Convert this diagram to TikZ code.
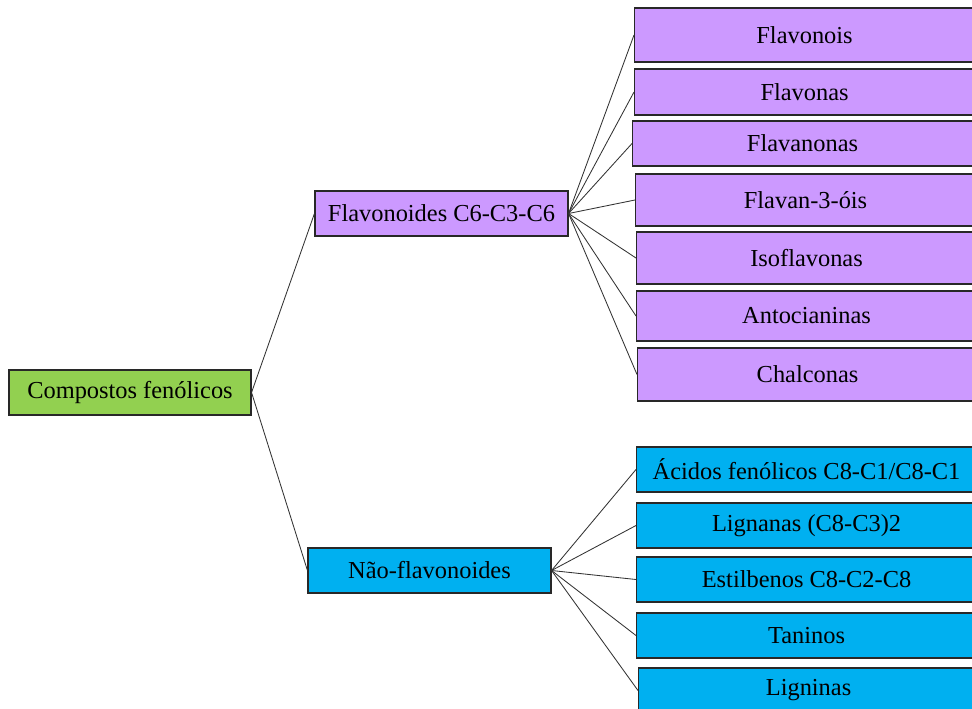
\documentclass[tikz,border=0pt]{standalone}
\usepackage{fontspec}
\setmainfont{Liberation Serif}
\usepackage{tikz}
\definecolor{leafgreen}{RGB}{146, 208, 80}
\definecolor{lilac}{RGB}{204, 153, 255}
\definecolor{skyblue}{RGB}{0, 176, 240}
\definecolor{edgegray}{RGB}{40, 40, 40}

\tikzset{
    box/.style={draw=edgegray, line width=1.1pt, rectangle, inner sep=0pt,
                font=\fontsize{24.4}{29}\selectfont, text=black},
    % folhas: a borda direita fica fora da figura
    leaf/.style={box, anchor=west, minimum width=380pt,
                execute at begin node={\hspace*{-40pt}}},
    flavbox/.style={leaf, fill=lilac},
    naobox/.style={leaf, fill=skyblue, minimum height=45pt},
    link/.style={draw=black!80, line width=0.85pt}
}

\begin{document}
\begin{tikzpicture}[x=1pt, y=-1pt]
            \useasboundingbox (0,0) rectangle (972,709);
            \clip (0,0) rectangle (972,709);
            % raiz e ramos
            \node[box, fill=leafgreen, minimum width=242pt, minimum height=45pt] (raiz) at (130.0, 392.5) {Compostos fenólicos};
            \node[box, fill=lilac, minimum width=253pt, minimum height=45pt]     (flav) at (441.5, 213.5) {Flavonoides C6-C3-C6};
            \node[box, fill=skyblue, minimum width=243pt, minimum height=45pt]   (naof) at (429.5, 570.5) {Não-flavonoides};
            % flavonoides
            \node[flavbox, minimum height=54pt] (fnois) at (634,  35.0) {Flavonois};
            \node[flavbox, minimum height=46pt] (fnas)  at (634,  92.0) {Flavonas};
            \node[flavbox, minimum height=45pt] (fanon) at (632, 143.5) {Flavanonas};
            \node[flavbox, minimum height=52pt] (f3ois) at (635, 200.0) {Flavan-3-óis};
            \node[flavbox, minimum height=52pt] (isofl) at (636, 258.0) {Isoflavonas};
            \node[flavbox, minimum height=50pt] (antoc) at (636, 316.0) {Antocianinas};
            \node[flavbox, minimum height=53pt] (chalc) at (637, 374.5) {Chalconas};
            % nao-flavonoides
            \node[naobox] (acid)  at (636, 469.5) {Ácidos fenólicos C8-C1/C8-C1};
            \node[naobox] (lign)  at (636, 525.5) {Lignanas (C8-C3)2};
            \node[naobox] (estil) at (636, 579.5) {Estilbenos C8-C2-C8};
            \node[naobox] (tanin) at (636, 635.5) {Taninos};
            \node[naobox] (ligni) at (638, 690.5) {Ligninas};
            % ligacoes
            \draw[link] (raiz.east) -- (flav.west);
            \draw[link] (raiz.east) -- (naof.west);
            \foreach \f in {fnois, fnas, fanon, f3ois, isofl, antoc, chalc}
                \draw[link] (flav.east) -- (\f.west);
            \foreach \n in {acid, lign, estil, tanin, ligni}
                \draw[link] (naof.east) -- (\n.west);
        \end{tikzpicture}
\end{document}
